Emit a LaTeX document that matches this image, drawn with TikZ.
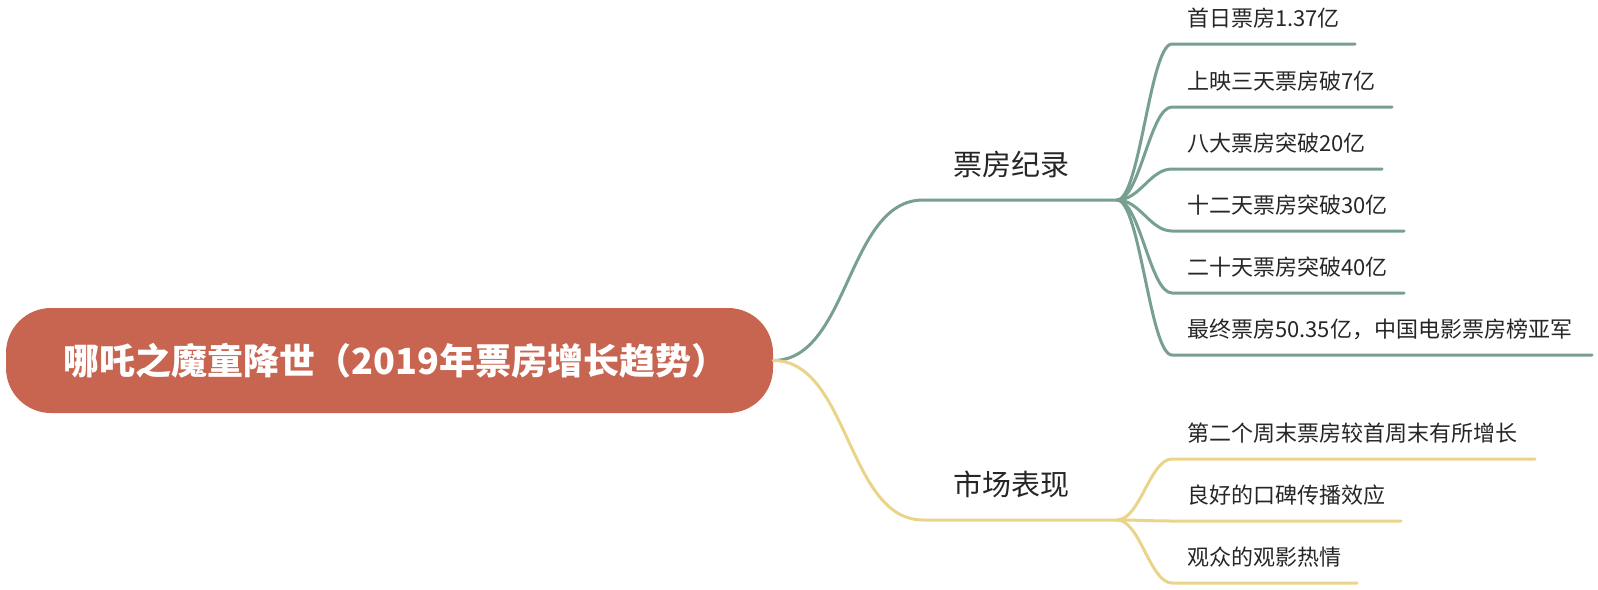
\documentclass[tikz,border=0pt]{standalone}
\usepackage{fontspec}
\setmainfont{Noto Sans CJK SC}
\definecolor{rootc}{HTML}{C86550}
\definecolor{gline}{HTML}{78A091}
\definecolor{yline}{HTML}{EAD48A}
\definecolor{txt}{HTML}{262626}
\begin{document}
\begin{tikzpicture}[x=1pt,y=-1pt,
  leaf/.style={anchor=south west, inner xsep=15pt, inner ysep=17.6pt, text depth=0pt, font=\fontsize{22}{26}\selectfont, text=txt},
  branch/.style={anchor=south west, inner xsep=30pt, inner ysep=24pt, text depth=0pt, font=\fontsize{29}{34}\selectfont, text=txt},
  gl/.style={draw=gline, line width=3pt, line cap=round},
  yl/.style={draw=yline, line width=3pt, line cap=round}]
\useasboundingbox (0,0) rectangle (1598,589);
\node[fill=rootc, rounded corners=45pt, minimum width=767pt, minimum height=105pt, inner sep=0pt, text=white, font=\fontsize{36}{40}\selectfont\bfseries] (root) at (389.5,360.5) {\hspace*{12pt}哪吒之魔童降世（2019年票房增长趋势）};
\node[branch] (b1) at (923,200) {票房纪录};
\node[branch] (b2) at (923,520) {市场表现};
\coordinate (j1) at (1117,200);
\coordinate (j2) at (1117,520);
\draw[gl] (root.east) .. controls +(76,0) and +(-76,0) .. (b1.south west) -- (j1);
\draw[yl] (root.east) .. controls +(76,0) and +(-76,0) .. (b2.south west) -- (j2);
\node[leaf] (g1) at (1172,44) {首日票房1.37亿};
\node[leaf] (g2) at (1172,107) {上映三天票房破7亿};
\node[leaf] (g3) at (1172,169) {八大票房突破20亿};
\node[leaf] (g4) at (1172,231) {十二天票房突破30亿};
\node[leaf] (g5) at (1172,293) {二十天票房突破40亿};
\node[leaf] (g6) at (1172,355) {最终票房50.35亿，中国电影票房榜亚军};
\node[leaf] (y1) at (1172,459) {第二个周末票房较首周末有所增长};
\node[leaf] (y2) at (1172,521) {良好的口碑传播效应};
\node[leaf] (y3) at (1172,583) {观众的观影热情};
\draw[gl] (j1) .. controls +(23,0) and +(-22,0) .. (g1.south west) -- ++(183,0);
\draw[gl] (j1) .. controls +(23,0) and +(-22,0) .. (g2.south west) -- ++(220,0);
\draw[gl] (j1) .. controls +(23,0) and +(-22,0) .. (g3.south west) -- ++(210,0);
\draw[gl] (j1) .. controls +(23,0) and +(-22,0) .. (g4.south west) -- ++(232,0);
\draw[gl] (j1) .. controls +(23,0) and +(-22,0) .. (g5.south west) -- ++(232,0);
\draw[gl] (j1) .. controls +(23,0) and +(-22,0) .. (g6.south west) -- ++(420,0);
\draw[yl] (j2) .. controls +(23,0) and +(-22,0) .. (y1.south west) -- ++(363,0);
\draw[yl] (j2) .. controls +(23,0) and +(-22,0) .. (y2.south west) -- ++(229,0);
\draw[yl] (j2) .. controls +(23,0) and +(-22,0) .. (y3.south west) -- ++(185,0);
\end{tikzpicture}
\end{document}
